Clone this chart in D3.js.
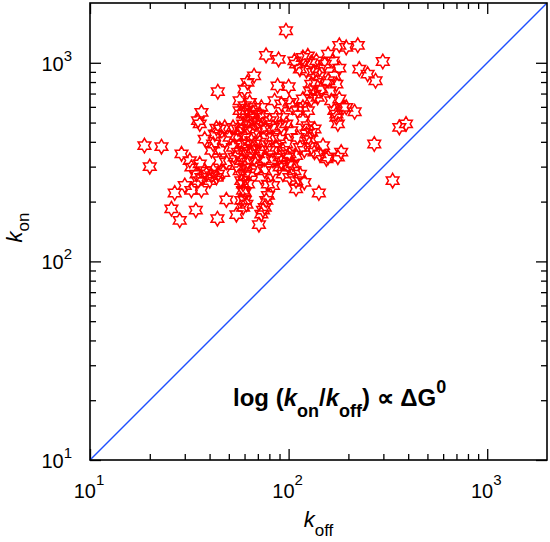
<!DOCTYPE html>
<html>
<head>
<meta charset="utf-8">
<script src="https://cdn.jsdelivr.net/npm/d3@7"></script>
<style>
  body { margin: 0; background: #fff; }
  svg { display: block; font-family: "Liberation Sans", Arial, sans-serif; }
</style>
</head>
<body>
<div id="chart"></div>
<script>
// [koff, kon] pairs
const outliers = [
  [97, 1450], [77, 1090], [89, 1040], [180, 1225], [195, 1195], [223, 1225],
  [298, 1015], [227, 930], [250, 877], [274, 812], [44, 715], [67, 860],
  [62, 797], [60, 737], [88, 766], [100, 758], [18.8, 383], [22.9, 378],
  [20, 300], [36.4, 563], [35, 511], [35.7, 492], [270, 390], [361, 473],
  [390, 492], [334, 255], [142, 221], [28.9, 348], [31.8, 322], [35.7, 310],
  [26.7, 221], [30, 241], [32.4, 228], [36.4, 228], [25.7, 184], [28.3, 161],
  [34.1, 181], [43.8, 164], [48.6, 204], [54.6, 172], [60.1, 203], [59, 187],
  [70.9, 153], [74.3, 181], [77.2, 203], [37.8, 413], [43.3, 469], [47.7, 473],
  [109, 232], [120, 250], [215, 567], [177, 492], [174, 552], [149, 383],
  [155, 328], [177, 335], [184, 355]
];
const upperCluster = [
  [107, 1023], [118, 1063], [125, 1084], [130, 1003], [138, 1023], [152, 984],
  [158, 1105], [167, 1023], [180, 940], [170, 860], [158, 812], [143, 860],
  [138, 797], [130, 781], [146, 737], [161, 723], [174, 781], [118, 657],
  [130, 657], [140, 670], [164, 644], [180, 657], [188, 597], [170, 574],
  [174, 531], [195, 597], [109, 984], [114, 929], [123, 912], [133, 894],
  [143, 929], [128, 723], [135, 696]
];
const coreCluster = [
  [56.7, 644], [60.1, 608], [63.7, 632], [67.5, 597], [72.9, 597], [85, 644],
  [91.9, 620], [101, 632], [105, 597], [59, 552], [64.9, 531], [70.1, 501],
  [74.3, 531], [80.3, 511], [86.7, 531], [93.6, 531], [97.3, 492], [91.9, 482],
  [83.4, 473], [77.2, 464], [68.8, 464], [63.7, 482], [59, 492], [55.6, 464],
  [52.5, 473], [50.5, 421], [54.6, 430], [60.1, 421], [64.9, 405], [71.5, 398],
  [77.2, 421], [83.4, 421], [90.1, 413], [97.3, 390], [57.8, 390], [52.5, 375],
  [55.6, 355], [60.1, 362], [66.2, 369], [72.9, 362], [80.3, 362], [86.7, 375],
  [93.6, 362], [101, 348], [109, 341], [53.5, 335], [57.8, 322], [62.5, 316],
  [68.8, 322], [75.8, 328], [83.4, 322], [91.9, 316], [99.2, 304], [107, 286],
  [114, 275], [54.6, 304], [60.1, 298], [68.8, 292], [75.8, 286], [83.4, 286],
  [93.6, 275], [101, 265], [109, 255], [60.1, 270], [72.9, 265], [78.7, 245],
  [83.4, 241], [59, 245], [60.1, 223], [57.8, 203], [61.3, 194], [45, 464],
  [42.5, 438], [47.7, 405], [45, 362], [41.7, 390], [40.9, 362], [45, 322],
  [48.6, 316], [41.7, 286], [44.1, 275], [46.8, 280], [38.6, 275], [40.1, 255],
  [118, 511], [125, 482], [130, 446], [135, 464], [123, 438], [128, 413],
  [130, 375], [120, 362], [135, 355], [143, 348], [158, 335], [111, 574],
  [118, 597], [125, 574], [111, 421], [114, 375], [103, 455], [99.2, 335],
  [105, 310], [78.7, 215], [75.8, 187], [72.9, 173],
  [56.7, 574], [61.3, 574], [66.2, 563], [71.5, 552], [62.5, 511], [67.5, 492],
  [72.9, 473], [57.8, 455], [61.3, 390], [67.5, 390], [63.7, 348], [70.1, 348],
  [56.7, 286], [63.7, 280], [57.8, 255], [62.5, 245], [59, 228], [83.4, 362],
  [90.1, 335], [90.1, 298]
];
const leftCluster = [
  [37.8, 286], [40.9, 270], [34.4, 275], [35, 255], [36.4, 265], [32.4, 298],
  [43.3, 265]
];

const axisDomain = [10, 2000];
const majorTicks = [10, 100, 1000];
const tickExponents = ["1", "2", "3"];
const minorTicks = [];
for (const d of [10, 100, 1000]) {
  for (let m = 2; m <= 9; m++) if (d * m < 2000) minorTicks.push(d * m);
}

const points = outliers.concat(upperCluster, coreCluster, leftCluster);

// set the dimensions and margins of the graph
const margin = { top: 3, right: 3, bottom: 82, left: 90 },
  width = 550 - margin.left - margin.right,
  height = 542 - margin.top - margin.bottom;

const svg = d3
  .select("#chart")
  .append("svg")
  .attr("width", width + margin.left + margin.right)
  .attr("height", height + margin.top + margin.bottom)
  .append("g")
  .attr("transform", `translate(${margin.left}, ${margin.top})`);

const x = d3.scaleLog().domain(axisDomain).range([0, width]);
const y = d3.scaleLog().domain(axisDomain).range([height, 0]);

// inward ticks on all four sides
function addTicks(axisFn, scale, transform) {
  const g = svg.append("g").attr("transform", transform);
  g.append("g").call(axisFn(scale).tickValues(majorTicks).tickSize(-11).tickSizeOuter(0).tickFormat(""));
  g.append("g").call(axisFn(scale).tickValues(minorTicks).tickSize(-6).tickSizeOuter(0).tickFormat(""));
  g.selectAll(".domain").remove();
  g.selectAll(".tick line").attr("stroke", "#000").attr("stroke-width", 1.3);
}
addTicks(d3.axisBottom, x, `translate(0, ${height})`);
addTicks(d3.axisTop, x, "translate(0, 0)");
addTicks(d3.axisLeft, y, "translate(0, 0)");
addTicks(d3.axisRight, y, `translate(${width}, 0)`);

// diagonal kon = koff
const line = d3.line().x((d) => x(d)).y((d) => y(d));
svg
  .append("path")
  .datum(axisDomain)
  .attr("d", line)
  .attr("fill", "none")
  .attr("stroke", "#1f4fff")
  .attr("stroke-width", 1.4);

// hexagram outline
const R = 7.3, r = R / Math.sqrt(3);
const starPts = d3.range(12).map((i) => {
  const a = (-90 + i * 30) * Math.PI / 180;
  const rad = i % 2 === 0 ? R : r;
  return [rad * Math.cos(a), rad * Math.sin(a)];
});
const starPath = "M" + starPts.map((p) => p[0].toFixed(2) + "," + p[1].toFixed(2)).join("L") + "Z";

svg
  .append("g")
  .selectAll("path")
  .data(points)
  .join("path")
  .attr("d", starPath)
  .attr("transform", (d) => `translate(${x(d[0])}, ${y(d[1])})`)
  .attr("fill", "none")
  .attr("stroke", "#ff0000")
  .attr("stroke-width", 1.5);

// frame
svg
  .append("rect")
  .attr("width", width)
  .attr("height", height)
  .attr("fill", "none")
  .attr("stroke", "#000")
  .attr("stroke-width", 1.6);

// tick labels 10^n
majorTicks.forEach((v, i) => {
  const tx = svg
    .append("text")
    .attr("x", x(v) - 1)
    .attr("y", height + 38)
    .attr("text-anchor", "middle")
    .attr("font-size", 20)
    .text("10");
  tx.append("tspan").attr("dy", -13).attr("font-size", 15).text(tickExponents[i]);

  const ty = svg
    .append("text")
    .attr("x", -18)
    .attr("y", y(v) + 8)
    .attr("text-anchor", "end")
    .attr("font-size", 20)
    .text("10");
  ty.append("tspan").attr("dy", -10).attr("font-size", 15).text(tickExponents[i]);
});

// axis titles
const xt = svg
  .append("text")
  .attr("x", width / 2)
  .attr("y", height + 67)
  .attr("text-anchor", "middle")
  .attr("font-size", 22);
xt.append("tspan").attr("font-style", "italic").text("k");
xt.append("tspan").attr("dy", 9).attr("font-size", 17).text("off");

const yt = svg
  .append("text")
  .attr("transform", `translate(${22 - margin.left}, ${height / 2 - 4}) rotate(-90)`)
  .attr("text-anchor", "middle")
  .attr("font-size", 22);
yt.append("tspan").attr("font-style", "italic").text("k");
yt.append("tspan").attr("dy", 7).attr("font-size", 17).text("on");

// annotation
const note = svg
  .append("text")
  .attr("x", 233 - margin.left)
  .attr("y", 406 - margin.top)
  .attr("font-size", 24)
  .attr("font-weight", "bold");
note.append("tspan").text("log (");
note.append("tspan").attr("font-style", "italic").text("k");
note.append("tspan").attr("dy", 11).attr("font-size", 18).text("on");
note.append("tspan").attr("dy", -11).text("/");
note.append("tspan").attr("font-style", "italic").text("k");
note.append("tspan").attr("dy", 11).attr("font-size", 18).text("off");
note.append("tspan").attr("dy", -11).text(") \u221D \u0394G");
note.append("tspan").attr("dy", -13).attr("font-size", 18).text("0");
</script>
</body>
</html>
